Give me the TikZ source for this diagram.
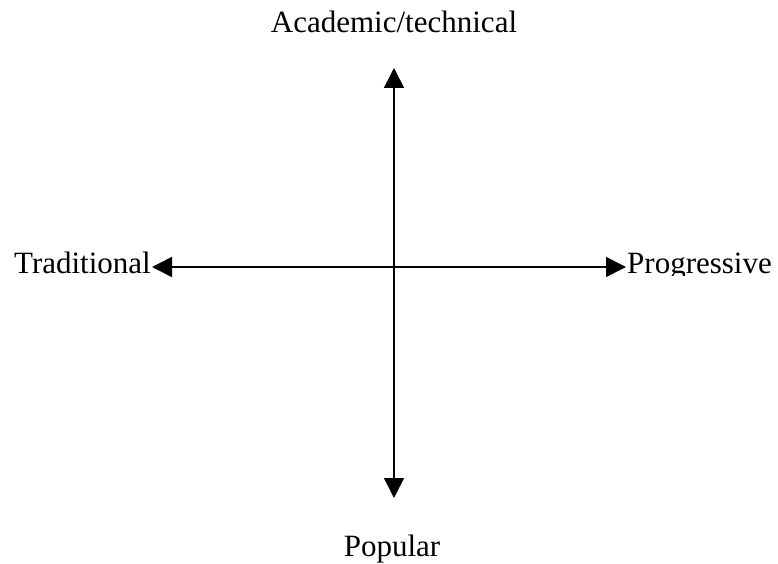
\documentclass[tikz,border=0pt]{standalone}
\usepackage{fontspec}
\setmainfont{Liberation Serif}
\usetikzlibrary{arrows.meta}
\tikzset{
  axis/.style={line width=1.6pt, {Triangle[length=20pt,width=20pt]}-{Triangle[length=20pt,width=20pt]}},
  pole/.style={inner sep=1pt, font=\fontsize{31}{36}\selectfont}
}
\begin{document}
\begin{tikzpicture}[x=1pt,y=-1pt]
  \useasboundingbox (0,0) rectangle (778,564);
  % Pole labels
  \node[pole, anchor=base] (acad) at (394,33) {Academic/technical};
  \node[pole, anchor=base] (pop) at (392,556) {Popular};
  \node[pole, anchor=base east] (trad) at (152,273) {Traditional};
  \begin{scope}
    \clip (600,230) rectangle (778,275);
    \node[pole, anchor=base west] (prog) at (626,273) {Progressive};
  \end{scope}
  % Axes
  \coordinate (top) at (394,68);
  \coordinate (bottom) at (394,498);
  \draw[axis] (trad.east |- 0,267) -- (prog.west |- 0,267);
  \draw[axis] (top) -- (bottom);
\end{tikzpicture}
\end{document}
